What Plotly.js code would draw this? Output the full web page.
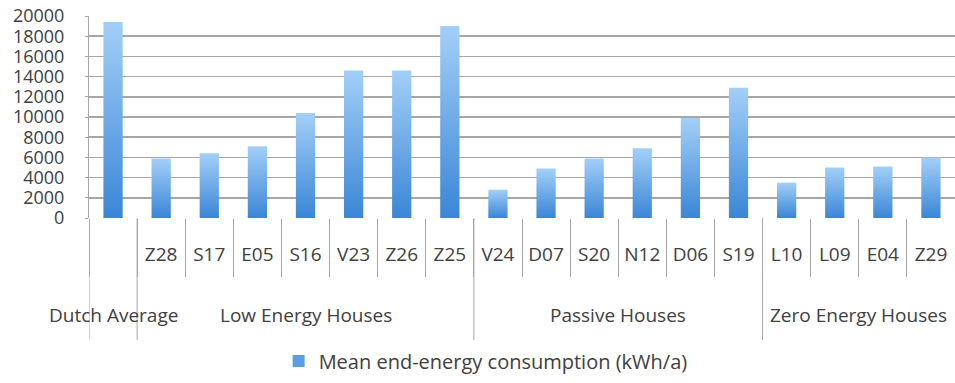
<!DOCTYPE html>
<html>
<head>
<meta charset="utf-8">
<script src="https://cdn.plot.ly/plotly-3.0.1.min.js"></script>
<style>html,body{margin:0;padding:0;background:#fff;}#chart{width:955px;height:383px;}</style>
</head>
<body>
<div id="chart"></div>
<script>
const groups = ["Dutch Average","Low Energy Houses","Low Energy Houses","Low Energy Houses","Low Energy Houses","Low Energy Houses","Low Energy Houses","Low Energy Houses","Passive Houses","Passive Houses","Passive Houses","Passive Houses","Passive Houses","Passive Houses","Zero Energy Houses","Zero Energy Houses","Zero Energy Houses","Zero Energy Houses"];
const houses = [" ","Z28","S17","E05","S16","V23","Z26","Z25","V24","D07","S20","N12","D06","S19","L10","L09","E04","Z29"];
const consumption = [19400,5900,6400,7100,10400,14600,14600,19000,2800,4900,5900,6900,9900,12900,3500,5000,5100,6000];
const seriesName = "Mean end-energy consumption (kWh/a)";

const FONT = "Open Sans, Lato, sans-serif";
const TXT = "#404040";
const LINE = "#a6a6a6";

const trace = {
  type: "bar",
  x: houses,
  y: consumption,
  name: seriesName,
  marker: {color: "#5a9fe6"},
  showlegend: true
};

// group labels and group dividers, derived from the category arrays
const annotations = [];
const shapes = [];
let start = 0;
for (let i = 1; i <= groups.length; i++) {
  if (i === groups.length || groups[i] !== groups[start]) {
    annotations.push({
      xref: "x", yref: "paper", x: (start + i - 1) / 2, y: -0.48,
      text: groups[start], showarrow: false, xanchor: "center", yanchor: "middle",
      font: {family: FONT, size: 19, color: TXT}
    });
    shapes.push({
      type: "line", xref: "x", yref: "paper", x0: start - 0.5, x1: start - 0.5, y0: 0, y1: -0.604,
      line: {color: LINE, width: 1}
    });
    start = i;
  }
}

const layout = {
  width: 955, height: 383,
  margin: {l: 89, r: 0, t: 16, b: 165, autoexpand: false},
  paper_bgcolor: "#fff", plot_bgcolor: "#fff",
  font: {family: FONT, size: 19, color: TXT},
  bargap: 0.6,
  showlegend: true,
  legend: {orientation: "h", x: 0.458, xanchor: "center", y: -0.708, yanchor: "middle",
           font: {family: FONT, size: 20, color: TXT}, itemwidth: 30},
  annotations: annotations,
  shapes: shapes,
  xaxis: {
    type: "category",
    range: [-0.5, houses.length - 0.5], autorange: false,
    ticks: "outside", tickson: "boundaries", ticklen: 58, tickcolor: LINE, tickwidth: 1,
    ticklabelstandoff: 23,
    showgrid: false, showline: false, zeroline: false,
    tickfont: {family: FONT, size: 19, color: TXT}
  },
  yaxis: {
    range: [0, 20000], dtick: 2000, tickformat: "d",
    showgrid: true, gridcolor: LINE, gridwidth: 1.5,
    showline: true, linecolor: LINE, linewidth: 1,
    ticks: "outside", ticklen: 3, tickcolor: LINE,
    ticklabelstandoff: 17,
    zeroline: false,
    tickfont: {family: FONT, size: 18, color: TXT}
  }
};

Plotly.newPlot("chart", [trace], layout, {displayModeBar: false, staticPlot: true}).then(function(gd){
  const svg = gd.querySelector(".main-svg");
  const ns = "http://www.w3.org/2000/svg";
  let defs = svg.querySelector("defs");
  if (!defs) { defs = document.createElementNS(ns, "defs"); svg.insertBefore(defs, svg.firstChild); }
  const grad = document.createElementNS(ns, "linearGradient");
  grad.setAttribute("id", "barGrad");
  grad.setAttribute("x1", "0"); grad.setAttribute("y1", "0");
  grad.setAttribute("x2", "0"); grad.setAttribute("y2", "1");
  [["0%", "#a3cff8"], ["100%", "#3a86d6"]].forEach(function(s){
    const st = document.createElementNS(ns, "stop");
    st.setAttribute("offset", s[0]); st.setAttribute("stop-color", s[1]);
    grad.appendChild(st);
  });
  defs.appendChild(grad);
  gd.querySelectorAll(".barlayer .point path").forEach(function(p){ p.style.fill = "url(#barGrad)"; });
});
</script>
</body>
</html>
